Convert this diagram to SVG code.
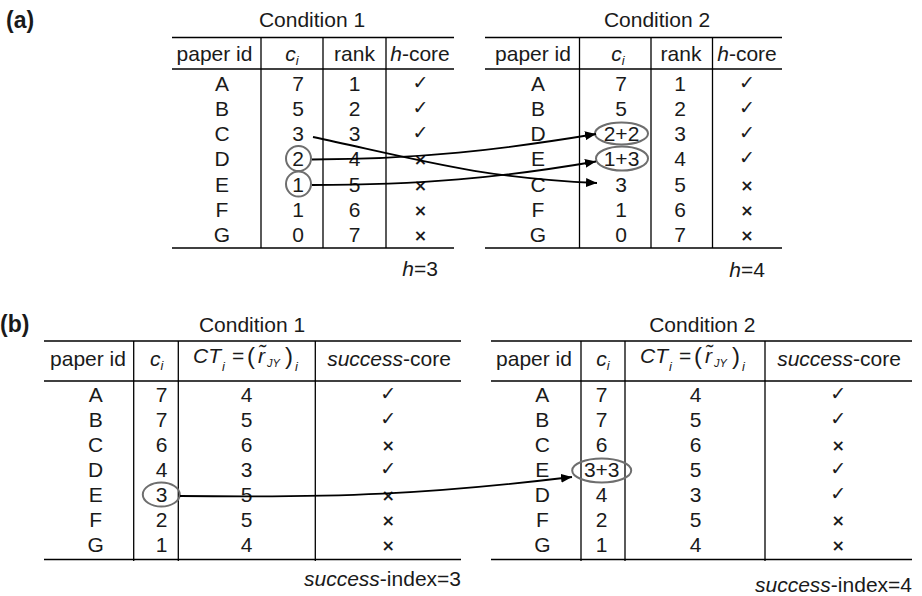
<svg xmlns="http://www.w3.org/2000/svg" width="922" height="596" viewBox="0 0 922 596">
<style>
text{font-family:"Liberation Sans",Arial,sans-serif;font-size:21px;fill:#1a1a1a}
.c{text-anchor:middle}
.e{text-anchor:end}
.it{font-style:italic}
.lab{font-weight:bold;font-size:23px}
.rule{stroke:#000;stroke-width:1.6;fill:none}
.vl{stroke:#000;stroke-width:1.3;fill:none}
.ok{font-family:"DejaVu Sans",sans-serif;font-size:19px;text-anchor:middle}
.no{font-family:"DejaVu Sans",sans-serif;font-size:16px;font-weight:bold;text-anchor:middle}
.ring{fill:none;stroke:#6e6e6e;stroke-width:2}
.arr{fill:none;stroke:#000;stroke-width:1.8;marker-end:url(#ah)}
.sub{font-size:13px}
.sub2{font-size:11px}
.par{font-size:24px}
</style>
<defs>
<marker id="ah" markerUnits="userSpaceOnUse" markerWidth="12" markerHeight="9" refX="11" refY="4.5" orient="auto">
<path d="M0,0 L11,4.5 L0,9 Z" fill="#000"/>
</marker>
</defs>

<g id="panel-a">
<text class="lab" x="6" y="28">(a)</text>
<g id="table-a1">
<text class="c" x="312" y="27">Condition 1</text>
<line class="rule" x1="172" y1="37.5" x2="454" y2="37.5"/>
<line class="rule" x1="172" y1="69" x2="454" y2="69"/>
<line class="rule" x1="172" y1="248" x2="454" y2="248"/>
<line class="vl" x1="261" y1="37.5" x2="261" y2="248"/>
<line class="vl" x1="323" y1="37.5" x2="323" y2="248"/>
<line class="vl" x1="386" y1="37.5" x2="386" y2="248"/>
<text class="c" x="214.5" y="61">paper id</text>
<text class="c it" x="292" y="61">c<tspan class="sub" dy="4">i</tspan></text>
<text class="c" x="354.5" y="61">rank</text>
<text class="c" x="420" y="61"><tspan class="it">h</tspan>-core</text>
<text class="c" x="222" y="90.5">A</text><text class="c" x="298" y="90.5">7</text><text class="c" x="354.5" y="90.5">1</text><text class="ok" x="420.5" y="89">✓</text>
<text class="c" x="222" y="116">B</text><text class="c" x="298" y="116">5</text><text class="c" x="354.5" y="116">2</text><text class="ok" x="420.5" y="114">✓</text>
<text class="c" x="222" y="141">C</text><text class="c" x="298" y="141">3</text><text class="c" x="354.5" y="141">3</text><text class="ok" x="420.5" y="139">✓</text>
<text class="c" x="222" y="166">D</text><text class="c" x="298" y="166">2</text><text class="c" x="354.5" y="166">4</text><text class="no" x="420.5" y="165">×</text>
<text class="c" x="222" y="191.5">E</text><text class="c" x="298" y="191.5">1</text><text class="c" x="354.5" y="191.5">5</text><text class="no" x="420.5" y="190.5">×</text>
<text class="c" x="222" y="217">F</text><text class="c" x="298" y="217">1</text><text class="c" x="354.5" y="217">6</text><text class="no" x="420.5" y="216">×</text>
<text class="c" x="222" y="242">G</text><text class="c" x="298" y="242">0</text><text class="c" x="354.5" y="242">7</text><text class="no" x="420.5" y="241">×</text>
<circle class="ring" cx="298.5" cy="158.5" r="12.5"/>
<circle class="ring" cx="298.5" cy="184" r="12.5"/>
<text class="e" x="438" y="276"><tspan class="it">h</tspan>=3</text>
</g>
<g id="table-a2">
<text class="c" x="657" y="27">Condition 2</text>
<line class="rule" x1="485" y1="37.5" x2="782" y2="37.5"/>
<line class="rule" x1="485" y1="69" x2="782" y2="69"/>
<line class="rule" x1="485" y1="248" x2="782" y2="248"/>
<line class="vl" x1="579.5" y1="37.5" x2="579.5" y2="248"/>
<line class="vl" x1="651" y1="37.5" x2="651" y2="248"/>
<line class="vl" x1="712.5" y1="37.5" x2="712.5" y2="248"/>
<text class="c" x="533" y="61">paper id</text>
<text class="c it" x="618" y="61">c<tspan class="sub" dy="4">i</tspan></text>
<text class="c" x="681" y="61">rank</text>
<text class="c" x="747" y="61"><tspan class="it">h</tspan>-core</text>
<text class="c" x="538" y="90.5">A</text><text class="c" x="621" y="90.5">7</text><text class="c" x="680" y="90.5">1</text><text class="ok" x="747" y="89">✓</text>
<text class="c" x="538" y="116">B</text><text class="c" x="621" y="116">5</text><text class="c" x="680" y="116">2</text><text class="ok" x="747" y="114">✓</text>
<text class="c" x="538" y="141">D</text><text class="c" x="621.5" y="141">2+2</text><text class="c" x="680" y="141">3</text><text class="ok" x="747" y="139">✓</text>
<text class="c" x="538" y="166">E</text><text class="c" x="621.5" y="166">1+3</text><text class="c" x="680" y="166">4</text><text class="ok" x="747" y="164">✓</text>
<text class="c" x="538" y="191.5">C</text><text class="c" x="621" y="191.5">3</text><text class="c" x="680" y="191.5">5</text><text class="no" x="747" y="190.5">×</text>
<text class="c" x="538" y="217">F</text><text class="c" x="621" y="217">1</text><text class="c" x="680" y="217">6</text><text class="no" x="747" y="216">×</text>
<text class="c" x="538" y="242">G</text><text class="c" x="621" y="242">0</text><text class="c" x="680" y="242">7</text><text class="no" x="747" y="241">×</text>
<ellipse class="ring" cx="621.5" cy="133.5" rx="26.5" ry="11"/>
<ellipse class="ring" cx="622" cy="158.5" rx="26" ry="12"/>
<text class="e" x="765" y="277"><tspan class="it">h</tspan>=4</text>
</g>
</g>

<g id="panel-b">
<text class="lab" x="0" y="332">(b)</text>
<g id="table-b1">
<text class="c" x="252" y="332">Condition 1</text>
<line class="rule" x1="44" y1="341" x2="461" y2="341"/>
<line class="rule" x1="44" y1="381" x2="461" y2="381"/>
<line class="rule" x1="44" y1="559.5" x2="461" y2="559.5"/>
<line class="vl" x1="133.7" y1="341" x2="133.7" y2="561"/>
<line class="vl" x1="178.3" y1="341" x2="178.3" y2="561"/>
<line class="vl" x1="315.3" y1="341" x2="315.3" y2="561"/>
<text class="c" x="88" y="366">paper id</text>
<text class="c it" x="156.7" y="366">c<tspan class="sub" dy="4">i</tspan></text>
<text y="363"><tspan class="it" x="193">CT</tspan><tspan class="it sub" x="222" y="371">i</tspan><tspan x="232" y="363">=</tspan><tspan class="par" x="247" y="364">(</tspan><tspan class="it" x="258" y="363">r̃</tspan><tspan class="it sub2" x="267" y="367">JY</tspan><tspan class="par" x="285" y="364">)</tspan><tspan class="it sub" x="295" y="371">i</tspan></text>
<text class="c" x="389" y="366"><tspan class="it">success</tspan>-core</text>
<text class="c" x="95.7" y="401.7">A</text><text class="c" x="161.7" y="401.7">7</text><text class="c" x="246.7" y="401.7">4</text><text class="ok" x="388.3" y="400">✓</text>
<text class="c" x="95.7" y="426.7">B</text><text class="c" x="161.7" y="426.7">7</text><text class="c" x="246.7" y="426.7">5</text><text class="ok" x="388.3" y="425">✓</text>
<text class="c" x="95.7" y="451.7">C</text><text class="c" x="161.7" y="451.7">6</text><text class="c" x="246.7" y="451.7">6</text><text class="no" x="388.3" y="451">×</text>
<text class="c" x="95.7" y="476.7">D</text><text class="c" x="161.7" y="476.7">4</text><text class="c" x="246.7" y="476.7">3</text><text class="ok" x="388.3" y="475">✓</text>
<text class="c" x="95.7" y="501.7">E</text><text class="c" x="161.7" y="501.7">3</text><text class="c" x="246.7" y="501.7">5</text><text class="no" x="388.3" y="501">×</text>
<text class="c" x="95.7" y="526.7">F</text><text class="c" x="161.7" y="526.7">2</text><text class="c" x="246.7" y="526.7">5</text><text class="no" x="388.3" y="526">×</text>
<text class="c" x="95.7" y="551.7">G</text><text class="c" x="161.7" y="551.7">1</text><text class="c" x="246.7" y="551.7">4</text><text class="no" x="388.3" y="551">×</text>
<ellipse class="ring" cx="161.3" cy="494.5" rx="18.5" ry="12"/>
<text class="e" x="461" y="586"><tspan class="it">success</tspan>-index=3</text>
</g>
<g id="table-b2">
<text class="c" x="702.3" y="332">Condition 2</text>
<line class="rule" x1="491" y1="341" x2="912" y2="341"/>
<line class="rule" x1="491" y1="381" x2="912" y2="381"/>
<line class="rule" x1="491" y1="559.5" x2="912" y2="559.5"/>
<line class="vl" x1="581" y1="341" x2="581" y2="561"/>
<line class="vl" x1="625" y1="341" x2="625" y2="561"/>
<line class="vl" x1="765" y1="341" x2="765" y2="561"/>
<text class="c" x="534" y="366">paper id</text>
<text class="c it" x="603" y="366">c<tspan class="sub" dy="4">i</tspan></text>
<text y="363"><tspan class="it" x="640">CT</tspan><tspan class="it sub" x="669" y="371">i</tspan><tspan x="679" y="363">=</tspan><tspan class="par" x="694" y="364">(</tspan><tspan class="it" x="705" y="363">r̃</tspan><tspan class="it sub2" x="714" y="367">JY</tspan><tspan class="par" x="732" y="364">)</tspan><tspan class="it sub" x="742" y="371">i</tspan></text>
<text class="c" x="839" y="366"><tspan class="it">success</tspan>-core</text>
<text class="c" x="542.3" y="401.7">A</text><text class="c" x="601.7" y="401.7">7</text><text class="c" x="695.7" y="401.7">4</text><text class="ok" x="838.3" y="400">✓</text>
<text class="c" x="542.3" y="426.7">B</text><text class="c" x="601.7" y="426.7">7</text><text class="c" x="695.7" y="426.7">5</text><text class="ok" x="838.3" y="425">✓</text>
<text class="c" x="542.3" y="451.7">C</text><text class="c" x="601.7" y="451.7">6</text><text class="c" x="695.7" y="451.7">6</text><text class="no" x="838.3" y="451">×</text>
<text class="c" x="542.3" y="476.7">E</text><text class="c" x="601.7" y="476.7">3+3</text><text class="c" x="695.7" y="476.7">5</text><text class="ok" x="838.3" y="475">✓</text>
<text class="c" x="542.3" y="501.7">D</text><text class="c" x="601.7" y="501.7">4</text><text class="c" x="695.7" y="501.7">3</text><text class="ok" x="838.3" y="500">✓</text>
<text class="c" x="542.3" y="526.7">F</text><text class="c" x="601.7" y="526.7">2</text><text class="c" x="695.7" y="526.7">5</text><text class="no" x="838.3" y="526">×</text>
<text class="c" x="542.3" y="551.7">G</text><text class="c" x="601.7" y="551.7">1</text><text class="c" x="695.7" y="551.7">4</text><text class="no" x="838.3" y="551">×</text>
<ellipse class="ring" cx="601.7" cy="470.5" rx="29.5" ry="12"/>
<text class="e" x="912" y="592"><tspan class="it">success</tspan>-index=4</text>
</g>
</g>

<g id="connectors">
<path class="arr" d="M313,137 C420,160 480,178 597,183"/>
<path class="arr" d="M312,159.5 C420,159 500,150 596,134"/>
<path class="arr" d="M312,185 C420,185 500,178 596,161.5"/>
<path class="arr" d="M180,496 C340,498 430,494 572,477"/>
</g>
</svg>
